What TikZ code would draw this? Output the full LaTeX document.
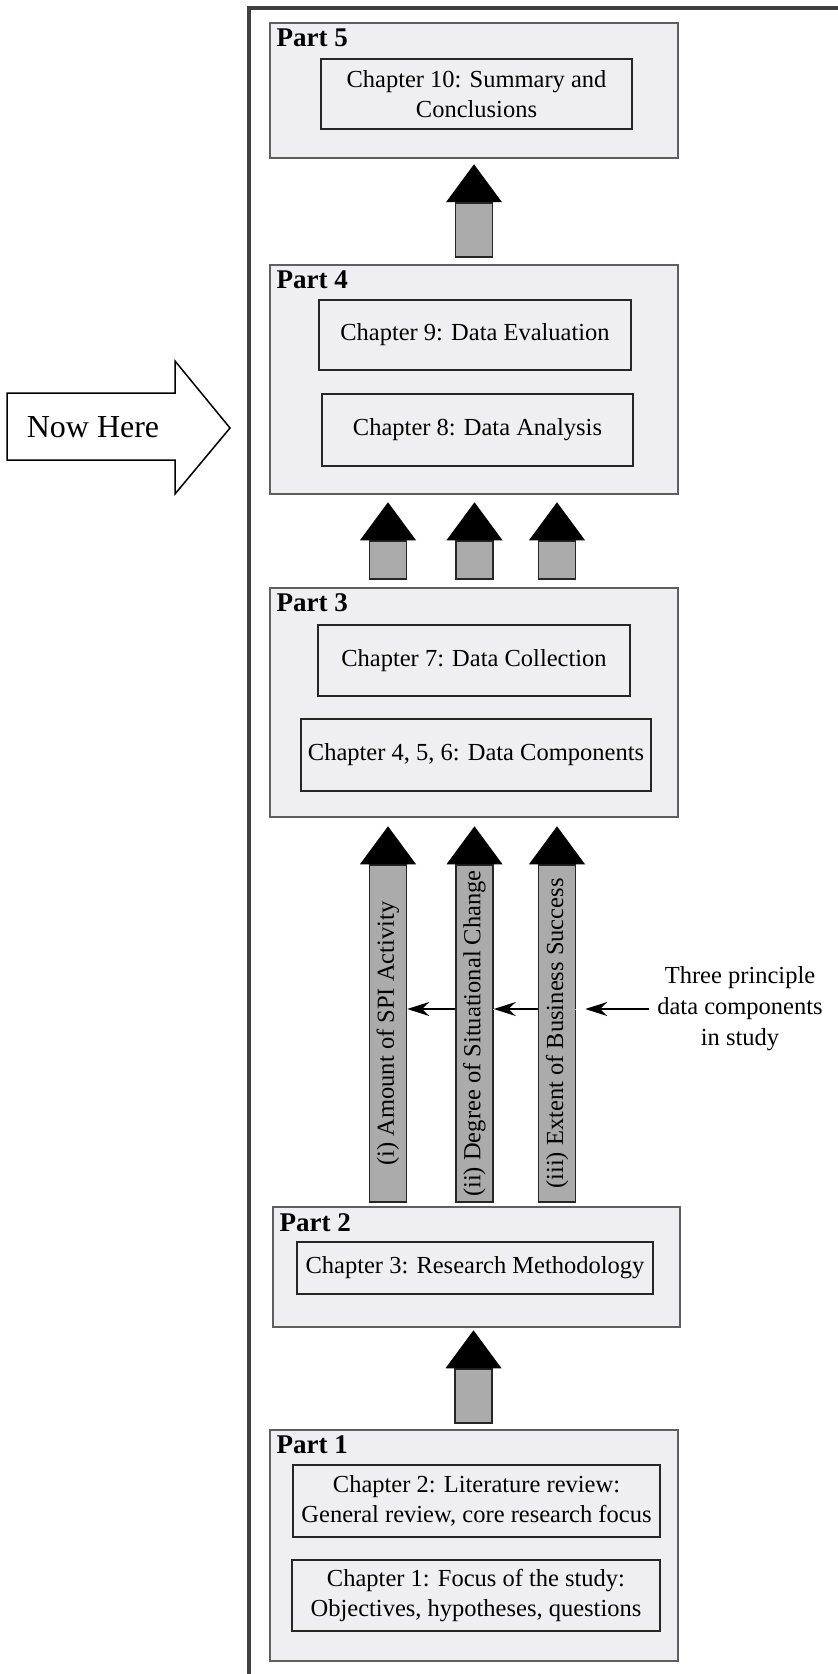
\documentclass[tikz,border=0pt]{standalone}
\usepackage{fontspec}
\setmainfont{Liberation Serif}
\usepackage{tikz}
\usetikzlibrary{arrows.meta, calc, positioning}

\definecolor{partfill}{RGB}{239,239,243}
\definecolor{partline}{RGB}{95,95,95}
\definecolor{shaftfill}{RGB}{171,171,171}
\definecolor{framegray}{RGB}{64,64,64}

\tikzset{
  part/.style={draw=partline, fill=partfill, line width=0.8pt, rectangle, minimum width=204pt, inner sep=0pt},
  chap/.style={draw=black!85, fill=partfill, line width=0.75pt, rectangle, align=center, inner sep=2pt, font=\fontsize{12.25}{15}\selectfont},
  partlabel/.style={anchor=base west, inner sep=0pt, font=\fontsize{13.5}{16}\selectfont\bfseries},
  shaft/.style={draw=black!85, fill=shaftfill, line width=0.75pt, rotate=90, minimum height=18.5pt, inner sep=0pt, font=\fontsize{12.25}{15}\selectfont},
  blockhead/.style={fill=black},
  pointer/.style={-{Stealth[length=11pt, width=7pt]}, line width=0.6pt},
  dotline/.style={draw=black!30, densely dotted, line width=0.4pt}
}

\begin{document}
\begin{tikzpicture}[x=0.5pt, y=-0.5pt]
\useasboundingbox (0,0) rectangle (838,1674);

% outer frame, only top and left edge show
\draw[framegray, line width=2pt] (249,1690) -- (249,8) -- (850,8);

% parts
\node (p5) [part, minimum height=67.5pt] at (474,90.5) {};
\node (p4) [part, minimum height=114.5pt] at (474,379.5) {};
\node (p3) [part, minimum height=114.5pt] at (474,702.5) {};
\node (p2) [part, minimum width=203.5pt, minimum height=60pt] at (476.5,1267) {};
\node (p1) [part, minimum height=115.5pt] at (474,1545.5) {};

\node (l5) [partlabel] at ($(p5.north west)+(7,24)$) {Part 5};
\node (l4) [partlabel] at ($(p4.north west)+(7,24)$) {Part 4};
\node (l3) [partlabel] at ($(p3.north west)+(7,24)$) {Part 3};
\node (l2) [partlabel] at ($(p2.north west)+(7,25)$) {Part 2};
\node (l1) [partlabel] at ($(p1.north west)+(7,24)$) {Part 1};

% chapters
\node (c10) [chap, minimum width=155.5pt, minimum height=35pt] at (476.5,94) {Chapter 10: Summary and\\Conclusions};
\node (c9) [chap, minimum width=156pt, minimum height=35pt] at (475,335) {Chapter 9: Data Evaluation};
\node (c8) [chap, minimum width=155.5pt, minimum height=36pt] at (477.5,430) {Chapter 8: Data Analysis};
\node (c7) [chap, minimum width=156pt, minimum height=35.5pt] at (474,660.5) {Chapter 7: Data Collection};
\node (c456) [chap, minimum width=175pt, minimum height=36pt] at (476,755) {Chapter 4, 5, 6: Data Components};
\node (c3) [chap, minimum width=178pt, minimum height=26pt] at (475,1268) {Chapter 3: Research Methodology};
\node (c2) [chap, minimum width=183.5pt, minimum height=36pt] at (476.5,1501) {Chapter 2: Literature review:\\General review, core research focus};
\node (c1) [chap, minimum width=184pt, minimum height=35.5pt] at (476,1595.5) {Chapter 1: Focus of the study:\\Objectives, hypotheses, questions};

% block arrows
\node (s5) [shaft, minimum width=27pt] at (474,230) {};
\fill[blockhead] ($(s5.east)+(-28,0)$) -- ($(s5.east)+(28,0)$) -- ($(s5.east)+(0,-38)$) -- cycle;

\foreach \n/\x in {a/388, b/474.5, c/557} {
  \node (t\n) [shaft, minimum width=19pt] at (\x,560) {};
  \fill[blockhead] ($(t\n.east)+(-28,0)$) -- ($(t\n.east)+(28,0)$) -- ($(t\n.east)+(0,-38)$) -- cycle;
}

\foreach \n/\x/\txt in {1/388/{(i) Amount of SPI Activity}, 2/474.5/{(ii) Degree of Situational Change}, 3/557/{(iii) Extent of Business Success}} {
  \node (s\n) [shaft, minimum width=168.5pt] at (\x,1033.5) {\txt};
  \fill[blockhead] ($(s\n.east)+(-28,0)$) -- ($(s\n.east)+(28,0)$) -- ($(s\n.east)+(0,-38)$) -- cycle;
}

\node (s1b) [shaft, minimum width=27pt] at (473.5,1396) {};
\fill[blockhead] ($(s1b.east)+(-28,0)$) -- ($(s1b.east)+(28,0)$) -- ($(s1b.east)+(0,-38)$) -- cycle;

% note and pointers
\node (note) [align=center, inner sep=4pt, font=\fontsize{12.25}{15.5}\selectfont] at (740,1009) {Three principle\\data components\\in study};
\draw[dotline] (s3.south |- note.west) -- (s3.north |- note.west);
\draw[dotline] (s2.south |- note.west) -- (s2.north |- note.west);
\draw[pointer] (note.west) -- ($(s3.south |- note.west)+(9,0)$);
\draw[pointer] (s3.north |- note.west) -- (s2.south |- note.west);
\draw[pointer] (s2.north |- note.west) -- (s1.south |- note.west);

% now here
\draw[line width=0.75pt, fill=white] (7,393) -- (175,393) -- (175,361) -- (230,428) -- (175,494) -- (175,460) -- (7,460) -- cycle;
\node (now) [font=\fontsize{16}{19}\selectfont] at (93,427) {Now Here};
\end{tikzpicture}
\end{document}
